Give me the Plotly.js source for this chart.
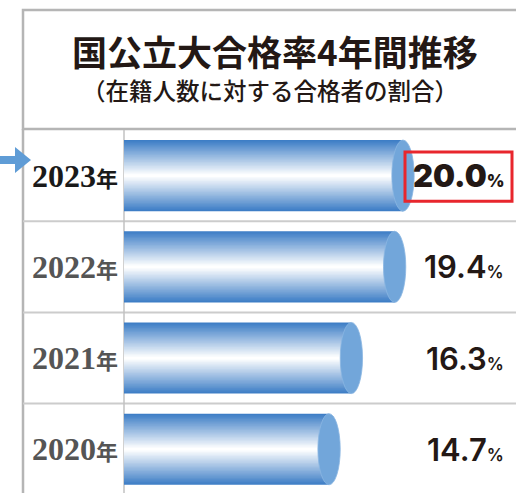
<!DOCTYPE html>
<html><head><meta charset="utf-8">
<script src="https://cdn.plot.ly/plotly-3.0.1.min.js"></script>
<style>html,body{margin:0;padding:0;background:#fff}</style>
</head><body><div id="chart" style="width:516px;height:493px"></div>
<script>
// ---- data ----
const yearNums = ['2023', '2022', '2021', '2020'];
const yearSuffix = '年';
const values = [20.0, 19.4, 16.3, 14.7];
const valueLabels = ['20.0', '19.4', '16.3', '14.7'];
const unitLabel = '%';
const highlightIndex = 0;
const titleText = '国公立大合格率4年間推移';
const subtitleText = '（在籍人数に対する合格者の割合）';

// ---- helpers ----
const W = 516, H = 493;
const px = x => x / W, py = y => 1 - y / H;
const idx = values.map((v, i) => i);

// gradient cylinder bodies: overlaid bar layers
const N = 26;
const edge = [62, 126, 198], white = [255, 255, 255];
const traces = [];
for (let k = 0; k < N; k++) {
  const t = k / (N - 1);
  const c = edge.map((b, j) => Math.round(b + (white[j] - b) * t));
  traces.push({
    type: 'bar', orientation: 'h', y: idx, x: values,
    width: 0.78 * (1 - k / N),
    marker: { color: `rgb(${c.join(',')})`, line: { width: 0 } },
    hoverinfo: 'skip', showlegend: false
  });
}

const shapes = [];
// title box
shapes.push({ type: 'rect', xref: 'paper', yref: 'paper', x0: px(23), x1: px(540), y0: py(129), y1: py(10),
  line: { color: '#b5b5b5', width: 2.5 }, fillcolor: 'rgba(0,0,0,0)', layer: 'below' });
// left border of table
shapes.push({ type: 'line', xref: 'paper', yref: 'paper', x0: px(23), x1: px(23), y0: py(129), y1: 0,
  line: { color: '#b5b5b5', width: 2.5 }, layer: 'below' });
// row separators
idx.forEach(i => {
  shapes.push({ type: 'line', xref: 'paper', yref: 'y', x0: px(23), x1: 1, y0: i + 0.5, y1: i + 0.5,
    line: { color: '#cccccc', width: 2 }, layer: 'below' });
});
// vertical divider
shapes.push({ type: 'line', xref: 'paper', yref: 'y', x0: px(124), x1: px(124), y0: -0.5, y1: 3.5,
  line: { color: '#c2c2c2', width: 1.5 }, layer: 'below' });
// cylinder end caps
values.forEach((v, i) => {
  shapes.push({ type: 'circle', xref: 'x', yref: 'y', x0: v - 0.8, x1: v + 0.8, y0: i - 0.39, y1: i + 0.39,
    fillcolor: '#72a6da', line: { color: '#8ab6e2', width: 0.8 }, layer: 'above' });
});
// highlight box
shapes.push({ type: 'rect', xref: 'paper', yref: 'y', x0: px(405), x1: px(512),
  y0: highlightIndex - 0.26, y1: highlightIndex + 0.28,
  line: { color: '#e8262d', width: 3 }, fillcolor: 'rgba(0,0,0,0)', layer: 'above' });
// arrow
shapes.push({ type: 'path', xref: 'paper', yref: 'paper',
  path: `M ${px(0)},${py(156)} L ${px(15)},${py(156)} L ${px(15)},${py(147)} L ${px(31)},${py(160)} L ${px(15)},${py(173)} L ${px(15)},${py(164)} L ${px(0)},${py(164)} Z`,
  fillcolor: '#5f9cd6', line: { width: 0 }, layer: 'above' });

const annotations = [];
annotations.push({ text: titleText, xref: 'paper', yref: 'paper', x: px(275), y: py(50),
  xanchor: 'center', yanchor: 'middle', showarrow: false,
  font: { family: 'Noto Sans CJK JP', size: 35, weight: 'bold', color: '#231815' } });
annotations.push({ text: subtitleText, xref: 'paper', yref: 'paper', x: px(270), y: py(90),
  xanchor: 'center', yanchor: 'middle', showarrow: false,
  font: { family: 'Noto Sans CJK JP', size: 23.5, weight: 500, color: '#231815' } });
idx.forEach(i => {
  const hi = i === highlightIndex;
  annotations.push({
    text: `${yearNums[i]}<span style="font-family:Noto Sans CJK JP;font-size:22px">${yearSuffix}</span>`,
    xref: 'paper', yref: 'y', x: px(120), y: i, xanchor: 'right', yanchor: 'middle', showarrow: false,
    font: { family: 'Liberation Serif', size: 32, weight: 'bold', color: hi ? '#1a1a1a' : '#555555' } });
  annotations.push({
    text: `${valueLabels[i]}<span style="font-size:17px">${unitLabel}</span>`,
    xref: 'paper', yref: 'y', x: px(506), y: i, xanchor: 'right', yanchor: 'middle', showarrow: false,
    font: { family: 'Inter', size: 31, weight: hi ? 900 : 600, color: '#231815' } });
});

const layout = {
  width: W, height: H, margin: { l: 0, r: 0, t: 0, b: 0 },
  paper_bgcolor: '#ffffff', plot_bgcolor: '#ffffff',
  barmode: 'overlay', showlegend: false,
  xaxis: { domain: [124 / W, 1], range: [0, 392 / 13.95], visible: false, fixedrange: true },
  yaxis: { domain: [0, py(130)], range: [3.48, -0.5], visible: false, fixedrange: true },
  shapes, annotations
};
Plotly.newPlot('chart', traces, layout, { displayModeBar: false, staticPlot: true });
</script></body></html>
